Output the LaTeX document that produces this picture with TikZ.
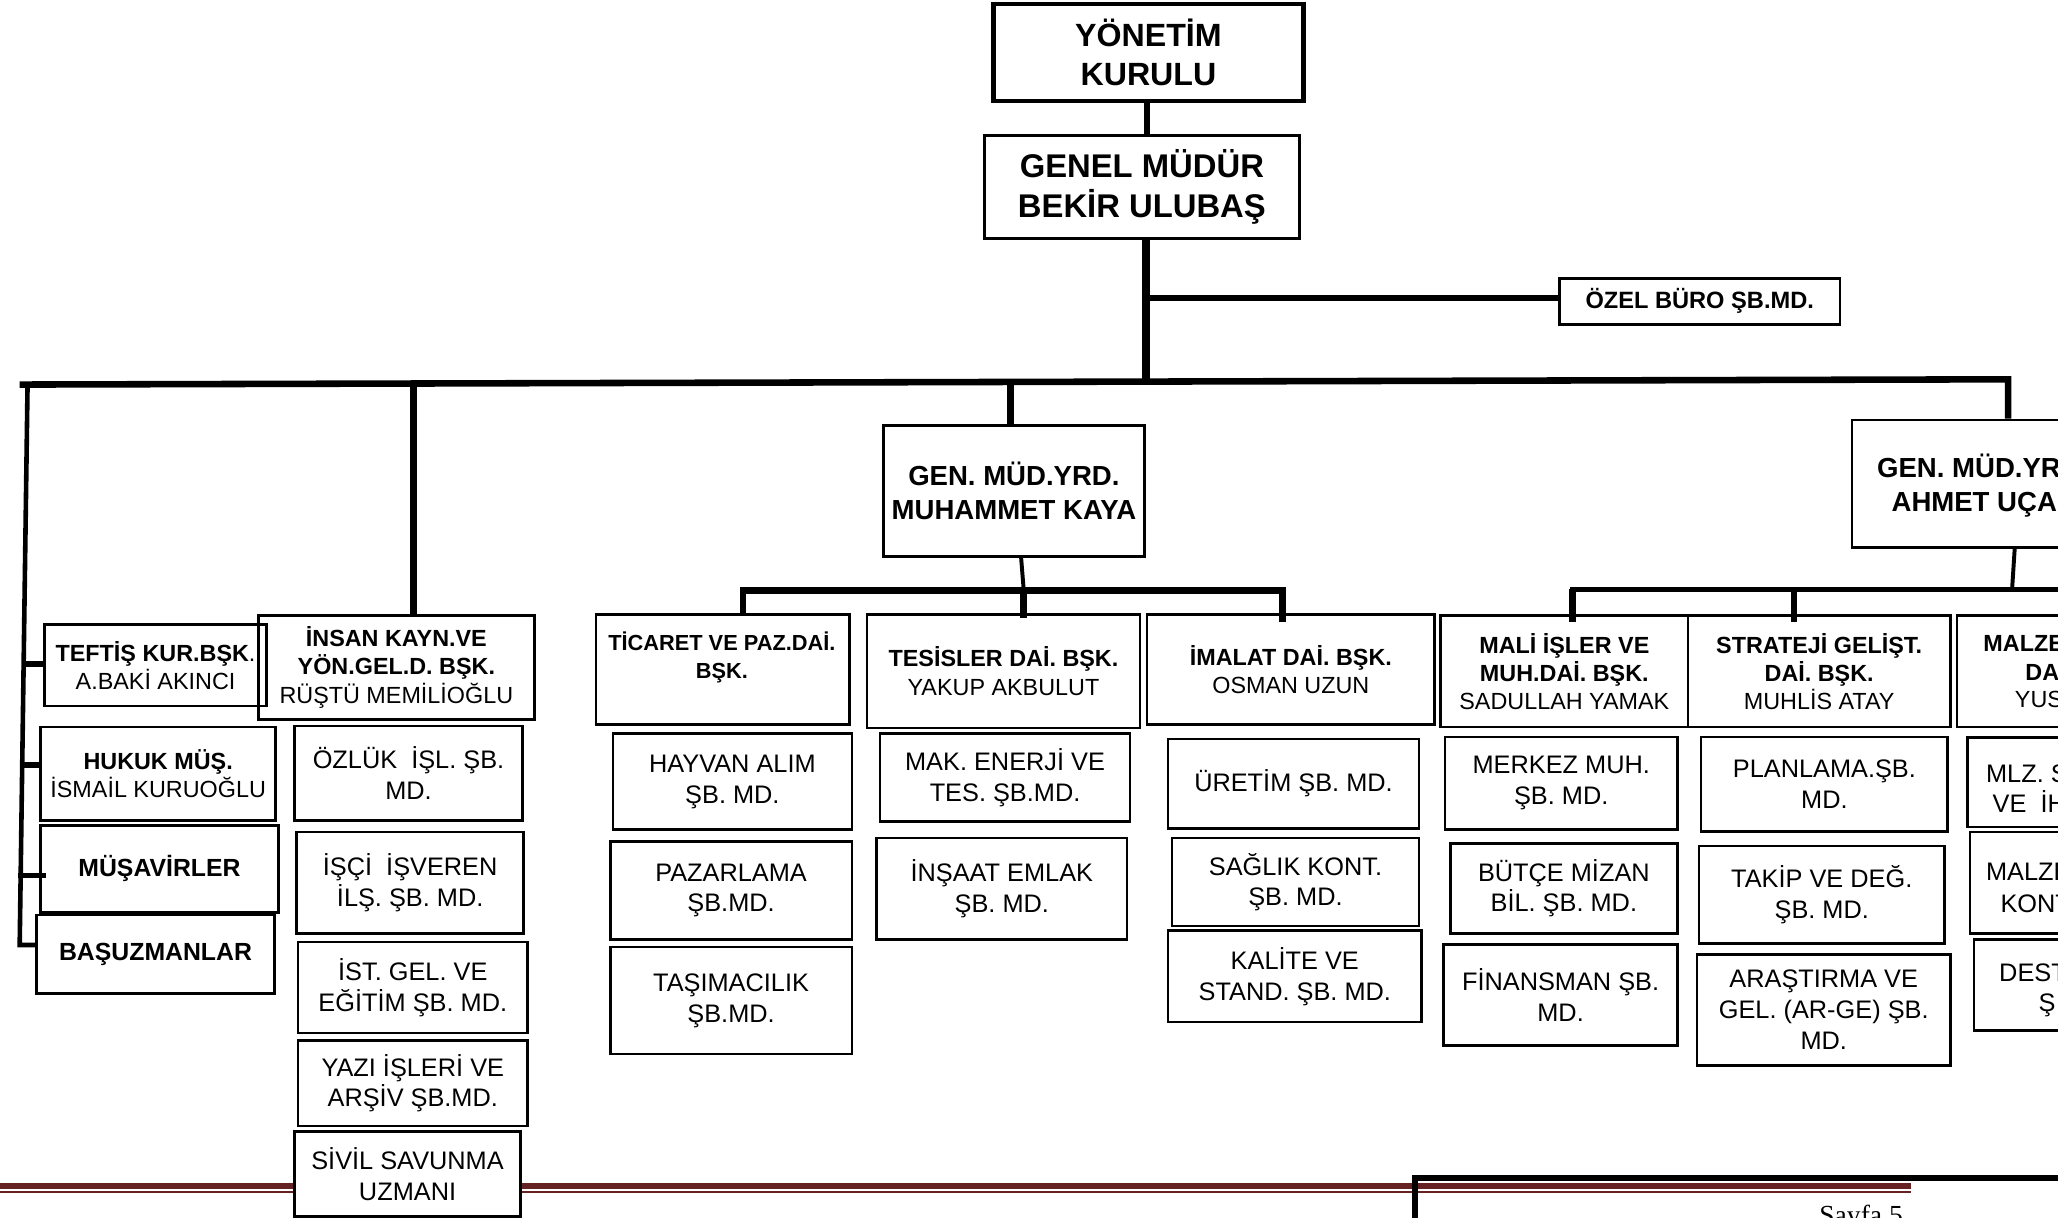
\documentclass[tikz,border=0pt]{standalone}
\usepackage{fontspec}
\setmainfont{Liberation Sans}
\newfontfamily\serifpage{Liberation Serif}
\definecolor{footred}{RGB}{102,34,34}
\newcommand\orgbox[7]{\node[bx,#6,minimum width={#4pt-#2pt},minimum height={#5pt-#3pt}] (#1) at ({(#2+#4)/2},{(#3+#5)/2}) {#7};}
\tikzset{
  bx/.style={draw, line width=2pt, inner sep=0pt, align=center},
  hd/.style={font=\fontsize{17.8}{21.5}\selectfont},
  sb/.style={font=\fontsize{19.3}{23.5}\selectfont},
  bb/.style={font=\fontsize{18.9}{22}\selectfont\bfseries},
  frag/.style={anchor=base west, inner sep=0pt},
  c3/.style={line width=3pt},
  c35/.style={line width=3.5pt},
  c4/.style={line width=4.2pt},
  c5/.style={line width=5pt},
  c6/.style={line width=6pt}
}
\begin{document}
\begin{tikzpicture}[x=1pt,y=-1pt,line join=miter]
\useasboundingbox (0,0) rectangle (1568,928);
\clip (0,0) rectangle (1568,928);
% footer band
\fill[footred] (0,901) rectangle (1456,906);
\fill[footred] (0,907.5) rectangle (1456,909);

% top
\orgbox{yk}{757}{3}{993}{77}{line width=3.5pt,font=\fontsize{24.5}{30}\selectfont\bfseries}{YÖNETİM\\KURULU}
\orgbox{gm}{750}{103}{990}{182}{line width=2.2pt,font=\fontsize{25}{30}\selectfont\bfseries}{GENEL MÜDÜR\\BEKİR ULUBAŞ}
\orgbox{ozel}{1188}{212}{1402}{247}{font=\fontsize{18}{21}\selectfont\bfseries}{ÖZEL BÜRO ŞB.MD.}
\orgbox{muh}{673}{324}{872}{424}{font=\fontsize{21}{26}\selectfont\bfseries}{GEN. MÜD.YRD.\\MUHAMMET KAYA}
\orgbox{ahmet}{1411}{320}{1700}{417}{}{}
\node[frag,font=\fontsize{21}{26}\selectfont\bfseries] (ah1) at (1430,363.5) {GEN. MÜD.YR};
\node[frag,font=\fontsize{21}{26}\selectfont\bfseries] (ah2) at (1441,389.5) {AHMET UÇA};

% left column
\orgbox{teftis}{34}{476}{203}{538}{hd}{\textbf{TEFTİŞ KUR.BŞK}.\\A.BAKİ AKINCI}
\orgbox{insan}{197}{469}{407}{548}{hd}{\textbf{İNSAN KAYN.VE}\\\textbf{YÖN.GEL.D. BŞK.}\\RÜŞTÜ MEMİLİOĞLU}
\orgbox{hukuk}{31}{554}{210}{625}{hd}{\textbf{HUKUK MÜŞ.}\\İSMAİL KURUOĞLU}
\orgbox{musav}{31}{629}{212}{695}{bb}{MÜŞAVİRLER}
\orgbox{basuz}{28}{697}{209}{757}{bb}{BAŞUZMANLAR}
\orgbox{ozluk}{224.5}{553}{398}{625}{sb}{ÖZLÜK\ \ İŞL. ŞB.\\MD.}
\orgbox{isci}{226}{634}{399}{711}{sb}{İŞÇİ\ \ İŞVEREN\\İLŞ. ŞB. MD.}
\orgbox{ist}{227}{717.6}{402}{787}{sb}{İST. GEL. VE\\EĞİTİM ŞB. MD.}
\orgbox{yazi}{227}{792.6}{402}{858}{sb}{YAZI İŞLERİ VE\\ARŞİV ŞB.MD.}
\orgbox{sivil}{224.5}{862}{396.5}{927}{sb,fill=white}{SİVİL SAVUNMA\\UZMANI}

% Muhammet Kaya group
\orgbox{ticaret}{454}{468}{647}{552}{}{}
\node[anchor=north,inner sep=0pt,align=center,font=\fontsize{16.6}{21}\selectfont\bfseries] (ticT) at (550,481.5) {TİCARET VE PAZ.DAİ.\\BŞK.};
\orgbox{tesis}{660.5}{468}{868.6}{554.6}{hd}{\textbf{TESİSLER DAİ. BŞK.}\\YAKUP AKBULUT}
\orgbox{imalat}{874}{468}{1093}{552}{hd}{\textbf{İMALAT DAİ. BŞK.}\\OSMAN UZUN}
\orgbox{hayvan}{467}{559}{649}{632}{sb}{HAYVAN ALIM\\ŞB. MD.}
\orgbox{pazar}{465}{641}{649}{716}{sb}{PAZARLAMA\\ŞB.MD.}
\orgbox{tasima}{465}{721.5}{649}{803}{sb}{TAŞIMACILIK\\ŞB.MD.}
\orgbox{maken}{670.5}{559}{861}{626}{sb}{MAK. ENERJİ VE\\TES. ŞB.MD.}
\orgbox{insaat}{668}{638.6}{858.6}{716}{sb}{İNŞAAT EMLAK\\ŞB. MD.}
\orgbox{uretim}{890}{563}{1081}{631}{sb}{ÜRETİM ŞB. MD.}
\orgbox{saglik}{893}{638.6}{1081}{705.6}{sb}{SAĞLIK KONT.\\ŞB. MD.}
\orgbox{kalite}{890}{709}{1083}{778.7}{sb}{KALİTE VE\\STAND. ŞB. MD.}

% Ahmet group
\orgbox{mali}{1097.7}{469}{1286}{554}{hd}{\textbf{MALİ İŞLER VE}\\\textbf{MUH.DAİ. BŞK.}\\SADULLAH YAMAK}
\orgbox{strat}{1286}{469}{1486}{554}{hd}{\textbf{STRATEJİ GELİŞT.}\\\textbf{DAİ. BŞK.}\\MUHLİS ATAY}
\orgbox{malz}{1491}{469}{1700}{554}{}{}
\node[frag,font=\fontsize{17.8}{21.5}\selectfont\bfseries] (mz1) at (1511,496.4) {MALZE};
\node[frag,font=\fontsize{17.8}{21.5}\selectfont\bfseries] (mz2) at (1543,518.4) {DA};
\node[frag,font=\fontsize{17.8}{21.5}\selectfont] (mz3) at (1535,539.4) {YUS};
\orgbox{merkez}{1101}{561.5}{1278}{632}{sb}{MERKEZ MUH.\\ŞB. MD.}
\orgbox{butce}{1105}{642.5}{1278}{711}{sb}{BÜTÇE MİZAN\\BİL. ŞB. MD.}
\orgbox{finans}{1100}{719.7}{1278}{796.6}{sb}{FİNANSMAN ŞB.\\MD.}
\orgbox{plan}{1296}{561.5}{1484}{633.5}{sb}{PLANLAMA.ŞB.\\MD.}
\orgbox{takip}{1294.5}{644.6}{1481.5}{719}{sb}{TAKİP VE DEĞ.\\ŞB. MD.}
\orgbox{arge}{1293}{727}{1486}{812}{sb}{ARAŞTIRMA VE\\GEL. (AR-GE) ŞB.\\MD.}
\orgbox{mlz}{1499}{562}{1700}{630}{}{}
\node[frag,sb] (ml1) at (1513,596) {MLZ. S};
\node[frag,sb] (ml2) at (1518,619) {VE\ \ İH};
\orgbox{malz2}{1501}{634}{1700}{711}{}{}
\node[frag,sb] (mk1) at (1513,671) {MALZE};
\node[frag,sb] (mk2) at (1524,695) {KONT};
\orgbox{dest}{1504}{716}{1700}{785}{}{}
\node[frag,sb] (ds1) at (1523,748) {DEST};
\node[frag,sb] (ds2) at (1553,771) {Ş};

% junction coordinates
\coordinate (jGM) at (873,291);
\coordinate (jOz) at (873,227);
\coordinate (mL) at (15,293);
\coordinate (mR) at (1530,289);
\coordinate (lT) at (21,293);
\coordinate (lB) at (15,720);
\coordinate (s1) at (18,506);
\coordinate (s2) at (17,583);
\coordinate (s3) at (16,667);
\coordinate (jIns) at (315,293);
\coordinate (jMuh) at (770,292);
\coordinate (jM1) at (780,450);
\coordinate (jTic) at (566,450);
\coordinate (jIma) at (977,450);
\coordinate (jA) at (1533,449);
\coordinate (jMali) at (1198,449);
\coordinate (jStr) at (1367,449);
\coordinate (jEnd) at (1600,449);

% connectors
\draw[c4] ([xshift=-1pt]yk.south) -- ([xshift=4pt]gm.north);
\draw[c6] ([xshift=3pt]gm.south) -- (jGM);
\draw[c4] (jOz) -- (ozel.west |- jOz);
\draw[c5] (mL) -- (mR) -- (mR |- ahmet.north);
\draw[c35] (lT) -- (lB) -- (lB -| basuz.west);
\draw[c4] (s1) -- (s1 -| teftis.west);
\draw[c4] (s2) -- (s2 -| hukuk.west);
\draw[c4] ([xshift=-2pt]s3) -- ([xshift=5pt]s3 -| musav.west);
\draw[c5] (jIns) -- (jIns |- insan.north);
\draw[c5] (jMuh) -- (jMuh |- muh.north);
\draw[c3] ([xshift=5.5pt]muh.south) -- (jM1);
\draw[c5] (jTic |- ticaret.north) -- (jTic) -- (jIma) -- ([yshift=-7pt]jIma |- imalat.north);
\draw[c5] (jM1) -- ([yshift=-4pt]jM1 |- tesis.north);
\draw[c3] ([xshift=-20.5pt]ahmet.south) -- (jA);
\draw[c4] ([xshift=-2pt]jMali) -- (jEnd);
\draw[c5] (jMali) -- ([yshift=-6pt]jMali |- mali.north);
\draw[c5] (jStr) -- ([yshift=-6pt]jStr |- strat.north);

% footer
\draw[c5] (1078,940) -- (1078,897.5) -- (1600,897.5);
\node[anchor=base west,inner sep=0pt,font=\serifpage\fontsize{21}{25}\selectfont] (sayfa) at (1386,933) {Sayfa 5};
\end{tikzpicture}
\end{document}
